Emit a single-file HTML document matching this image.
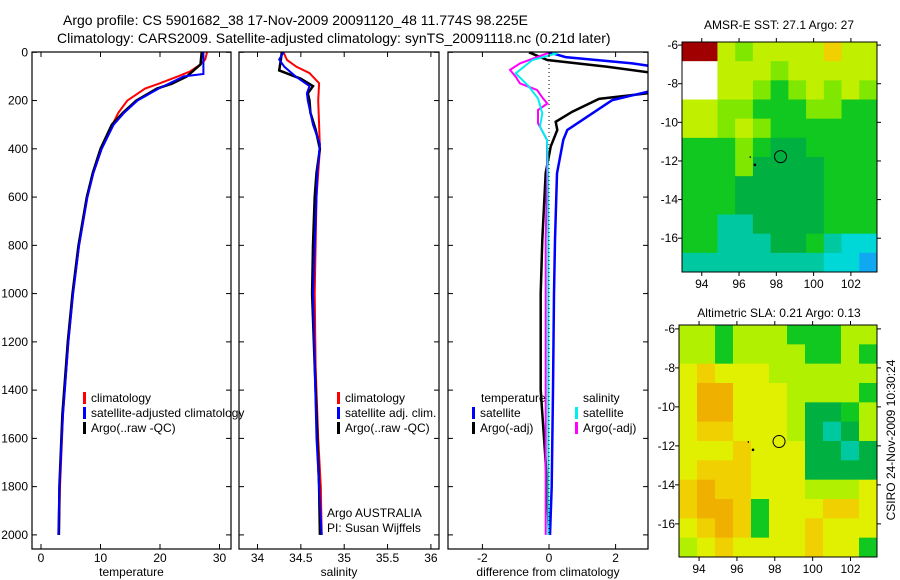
<!DOCTYPE html>
<html><head><meta charset="utf-8">
<style>
html,body{margin:0;padding:0;background:#fff;width:900px;height:580px;overflow:hidden}
svg{font-family:"Liberation Sans",sans-serif}
</style></head>
<body>
<svg id="fig" width="900" height="580" viewBox="0 0 900 580" xmlns="http://www.w3.org/2000/svg">
<text x="63" y="25" font-size="14">Argo profile: CS 5901682_38 17-Nov-2009 20091120_48 11.774S 98.225E</text>
<text x="57" y="43" font-size="14">Climatology: CARS2009. Satellite-adjusted climatology: synTS_20091118.nc (0.21d later)</text>
<text x="779" y="29" font-size="12" text-anchor="middle">AMSR-E SST: 27.1 Argo: 27</text>
<text x="779" y="317" font-size="12" text-anchor="middle">Altimetric SLA: 0.21 Argo: 0.13</text>
<text transform="translate(895,440) rotate(-90)" font-size="12" text-anchor="middle">CSIRO 24-Nov-2009 10:30:24</text>
</svg>
<script>
// ---------- data ----------
const depthTicks=[0,200,400,600,800,1000,1200,1400,1600,1800,2000];
const tempTicks=[0,10,20,30];
const salTicks=[34,34.5,35,35.5,36];
const diffTicks=[-2,0,2];
const tClimD=[0,30,50,80,100,130,150,200,250,300,400,500,600,800,1000,1200,1500,1800,2000];
const tClimV=[27.9,27.6,26.8,25.0,23.0,19.8,17.5,14.5,13.0,12.0,10.2,8.8,7.8,6.4,5.4,4.6,3.7,3.2,3.0];
const tSatD=[0,50,90,100,130,150,200,250,300,400,500,600,800,1000,1200,1500,1800,2000];
const tSatV=[27.3,27.3,27.3,24.0,21.5,19.8,16.2,14.0,12.2,10.2,8.8,7.8,6.4,5.4,4.6,3.7,3.1,2.9];
const tArgoD=[0,50,100,130,150,200,250,300,400,500,600,800,1000,1200,1500,1800,2000];
const tArgoV=[27.0,26.8,24.5,22.0,19.5,16.0,13.8,11.9,10.0,8.7,7.7,6.3,5.3,4.5,3.6,3.1,3.0];
const sClimD=[0,32,60,86,128,200,300,400,500,600,800,1000,1300,1600,1800,2000];
const sClimV=[34.3,34.34,34.45,34.6,34.71,34.7,34.71,34.72,34.7,34.68,34.67,34.66,34.67,34.7,34.73,34.74];
const sSatD=[0,30,60,100,140,170,200,300,380,500,600,800,1000,1300,1600,1800,2000];
const sSatV=[34.3,34.25,34.31,34.44,34.6,34.57,34.58,34.64,34.72,34.69,34.68,34.66,34.64,34.66,34.68,34.71,34.74];
const sArgoD=[0,30,75,110,140,170,200,250,320,400,500,600,800,1000,1300,1500,1800,2000];
const sArgoV=[34.28,34.27,34.25,34.5,34.64,34.58,34.6,34.61,34.67,34.72,34.68,34.66,34.64,34.63,34.66,34.68,34.71,34.72];
const dTSatD=[0,20,46,60,156,198,267,322,363,502,778,1000,1400,1800,2000];
const dTSatV=[0,0.5,2.5,3.2,3.2,1.9,1.15,0.55,0.43,0.24,0.18,0.15,0.12,0.08,0.03];
const dTArgoD=[0,32,60,87,166,193,246,288,322,391,500,778,1000,1400,1700,2000];
const dTArgoV=[-0.6,-0.05,1.75,3.2,3.2,1.5,0.7,0.2,0.25,0.05,-0.1,-0.2,-0.25,-0.25,-0.1,0];
const dSSatD=[0,4,32,87,142,191,253,308,363,502,778,1200,1600,2000];
const dSSatV=[0.1,0.25,-0.5,-1.0,-0.6,-0.33,-0.2,-0.27,-0.06,-0.03,-0.02,-0.02,-0.02,-0.02];
const dSArgoD=[0,4,46,73,101,129,156,191,212,239,294,363,502,778,1200,1600,2000];
const dSArgoV=[0,-0.05,-0.87,-1.17,-1.0,-0.87,-0.36,-0.18,-0.05,-0.33,-0.33,-0.06,-0.06,-0.1,-0.1,-0.1,-0.1];
const lonTicks=[94,96,98,100,102];
const latTicks=[-6,-8,-10,-12,-14,-16];
const sstGrid=["RRygyyyyoyy","WWyyygyyyyy","WWyygGgygyg","yyggGGGggGG","yygygGGGGGG","GGGgGDDGGGG","GGGgDDDDGGG","GGGDDDDDGGG","GGGDDDDDGGG","GGTTDDDDGGG","GGTTTDDGTCC","TTTTTTTTCCB"];
const slaGrid=["LLGLLLGGGLL","LLGLLLLGGLG","YoYYYLLLLLL","YOOYYYLLLLG","YOOYYYLDDGL","YooYYYLDTDL","YYYoYYYDDTD","YoooYYYDDDD","oOooYYYLLLY","oOOoGYYYooY","YoOoGYYoYYY","LYoYYYYoYYG"];
const argoLon=98.225, argoLat=-11.774;
// ---------- helpers ----------
const svg=document.getElementById('fig');
const NS='http://www.w3.org/2000/svg';
function mk(tag,attrs,parent){const e=document.createElementNS(NS,tag);for(const k in attrs)e.setAttribute(k,attrs[k]);(parent||svg).appendChild(e);return e;}
function txt(x,y,s,size,anchor,parent){const t=mk('text',{x:x,y:y,'font-size':size||12,'text-anchor':anchor||'start'},parent);t.textContent=s;return t;}
const yD=d=>52.3+0.2413*d;
function panel(name,x0,x1,xf,ticks,title,series){
  const g=mk('g',{});
  
  
  const clipId=name+'-clip';
  const cp=mk('clipPath',{id:clipId},g);mk('rect',{x:x0,y:52,width:x1-x0,height:497},cp);
  const sg=mk('g',{'clip-path':'url(#'+clipId+')'},g);
  series.forEach(s=>{
    const pts=s.d.map((d,i)=>xf(s.v[i]).toFixed(1)+','+yD(d).toFixed(1)).join(' ');
    const p=mk('polyline',{points:pts,fill:'none',stroke:s.c,'stroke-width':s.w||2},sg);
    
    
  });
  const fr=mk('rect',{x:x0,y:52,width:x1-x0,height:497,fill:'none',stroke:'#000','stroke-width':1.2},g);
  
  
  ticks.forEach(v=>{const x=xf(v);mk('line',{x1:x,x2:x,y1:52,y2:57,stroke:'#000'},g);mk('line',{x1:x,x2:x,y1:549,y2:544,stroke:'#000'},g);
    const t=txt(x,562,String(v),12,'middle',g);});
  depthTicks.forEach(d=>{const y=yD(d);mk('line',{x1:x0,x2:x0+5,y1:y,y2:y,stroke:'#000'},g);mk('line',{x1:x1,x2:x1-5,y1:y,y2:y,stroke:'#000'},g);});
  const at=txt((x0+x1)/2,576,title,12,'middle',g);
  return g;
}
const xT=v=>41+5.95*v, xS=v=>257.5+86.7*(v-34), xF=v=>549+33.3*v;
depthTicks.forEach(d=>{const t=txt(28,yD(d)+4,String(d),12,'end');});
panel('temperature-panel',32,231,xT,tempTicks,'temperature',[
 {d:tClimD,v:tClimV,c:'#f00',n:'temp-climatology-line'},
 {d:tArgoD,v:tArgoV,c:'#000',n:'temp-argo-line',w:2.5},
 {d:tSatD,v:tSatV,c:'#00f',n:'temp-satellite-line'}]);
panel('salinity-panel',239,439,xS,salTicks,'salinity',[
 {d:sClimD,v:sClimV,c:'#f00',n:'sal-climatology-line'},
 {d:sArgoD,v:sArgoV,c:'#000',n:'sal-argo-line',w:2.5},
 {d:sSatD,v:sSatV,c:'#00f',n:'sal-satellite-line'}]);
const dp=panel('difference-panel',448,648,xF,diffTicks,'difference from climatology',[
 {d:dTArgoD,v:dTArgoV,c:'#000',n:'diff-temp-argo-line',w:2.5},
 {d:dTSatD,v:dTSatV,c:'#00f',n:'diff-temp-satellite-line',w:2.5},
 {d:dSArgoD,v:dSArgoV,c:'#f0f',n:'diff-sal-argo-line'},
 {d:dSSatD,v:dSSatV,c:'#0ee',n:'diff-sal-satellite-line'}]);
mk('line',{x1:xF(0),x2:xF(0),y1:52,y2:yD(2000),stroke:'#000','stroke-dasharray':'1,3'},dp);
function legend(x,y,items){items.forEach((it,i)=>{const yy=y+i*15;mk('rect',{x:x,y:yy-10,width:3,height:12,fill:it[0]});const t=txt(x+8,yy,it[1],12);});}
legend(83,402,[['#f00','climatology'],['#00f','satellite-adjusted climatology'],['#000','Argo(..raw -QC)']]);
legend(337,402,[['#f00','climatology'],['#00f','satellite adj. clim.'],['#000','Argo(..raw -QC)']]);
txt(481,402,'temperature',12);txt(583,402,'salinity',12);
legend(472,417,[['#00f','satellite'],['#000','Argo(-adj)']]);
legend(575,417,[['#0ee','satellite'],['#f0f','Argo(-adj)']]);
const a1=txt(327,517,'Argo AUSTRALIA',12);
const a2=txt(327,532,'PI: Susan Wijffels',12);
// maps
const cols={R:'#a00000',W:'#ffffff',y:'#c0f000',g:'#80e800',G:'#10c820',D:'#00b040',T:'#00c8a0',C:'#00d8d8',B:'#10a8f0',o:'#f0d000',O:'#f0b000',Y:'#e0f000',L:'#b0f000'};
function map(name,grid,x0,y0,x1,y1,lat0,lat1){
  const g=mk('g',{});
  
  
  const lon0=92.94,lon1=103.4;
  const xf=l=>x0+(l-lon0)/(lon1-lon0)*(x1-x0), yf=l=>y0+(lat0-l)/(lat0-lat1)*(y1-y0);
  const nr=grid.length,nc=grid[0].length,cw=(x1-x0)/nc,ch=(y1-y0)/nr;
  grid.forEach((row,r)=>{for(let c=0;c<nc;c++){mk('rect',{x:x0+c*cw,y:y0+r*ch,width:cw+0.5,height:ch+0.5,fill:cols[row[c]]},g);}});
  mk('rect',{x:x0,y:y0,width:x1-x0,height:y1-y0,fill:'none',stroke:'#000'},g);
  lonTicks.forEach(l=>{const x=xf(l);mk('line',{x1:x,x2:x,y1:y0,y2:y0-4,stroke:'#000'},g);mk('line',{x1:x,x2:x,y1:y1,y2:y1+4,stroke:'#000'},g);
    const t=txt(x,y1+16,String(l),12,'middle',g);});
  latTicks.forEach(l=>{const y=yf(l);mk('line',{x1:x0,x2:x0-4,y1:y,y2:y,stroke:'#000'},g);mk('line',{x1:x1,x2:x1+4,y1:y,y2:y,stroke:'#000'},g);
    const t=txt(x0-4,y+4,String(l),12,'end',g);});
  const c=mk('circle',{cx:xf(argoLon),cy:yf(argoLat),r:6,fill:'none',stroke:'#000'},g);
  
  
  mk('circle',{cx:xf(96.85),cy:yf(-12.2),r:1.3,fill:'#000'},g);
  mk('rect',{x:xf(96.6)-0.5,y:yf(-11.8)-1,width:1,height:2,fill:'#000'},g);
}
map('sst-map',sstGrid,682,42,877,272,-5.84,-17.75);
map('sla-map',slaGrid,679,325,877,557,-5.8,-17.7);
</script>
</body></html>
